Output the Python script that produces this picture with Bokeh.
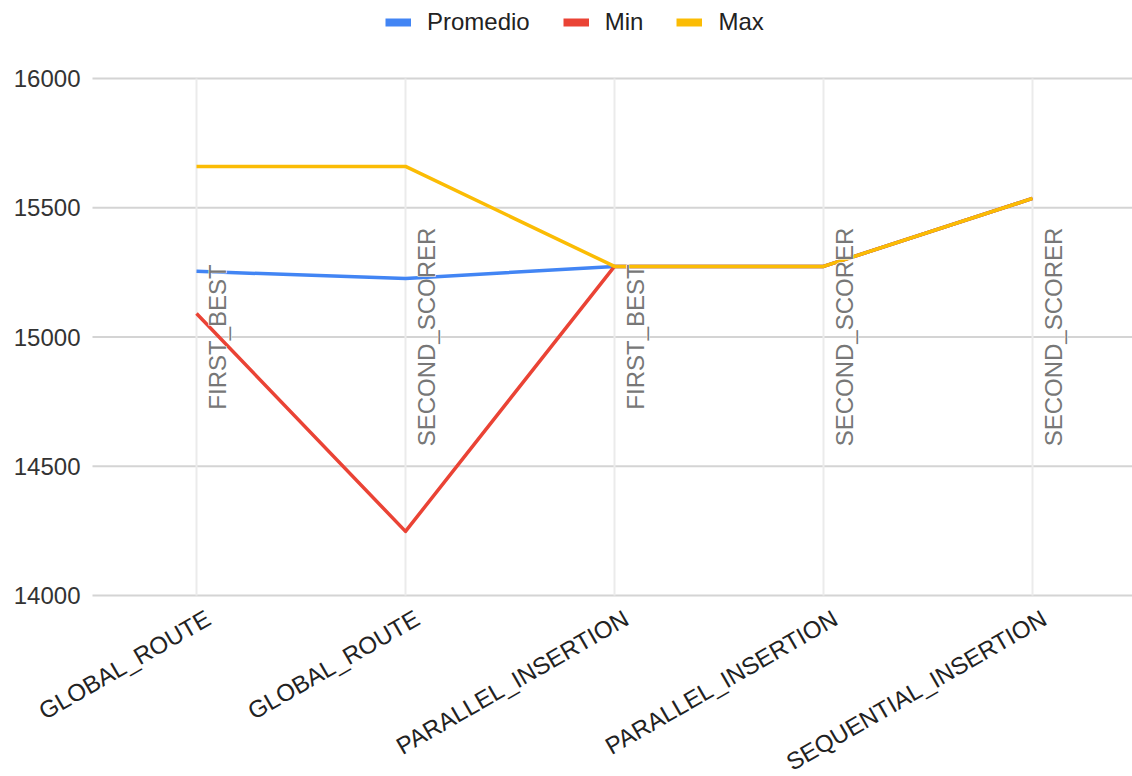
import math

from bokeh.core.properties import value
from bokeh.embed import file_html
from bokeh.models import Legend, LegendItem, Range1d
from bokeh.plotting import figure
from bokeh.resources import INLINE

# Results per algorithm / strategy combination
algorithms = ["GLOBAL_ROUTE", "GLOBAL_ROUTE", "PARALLEL_INSERTION",
              "PARALLEL_INSERTION", "SEQUENTIAL_INSERTION"]
strategies = ["FIRST_BEST", "SECOND_SCORER", "FIRST_BEST",
              "SECOND_SCORER", "SECOND_SCORER"]
promedio = [15254, 15226, 15273, 15273, 15536]
minimo = [15091, 14248, 15273, 15273, 15536]
maximo = [15660, 15660, 15273, 15273, 15536]
y_ticks = [14000, 14500, 15000, 15500, 16000]
y_tick_labels = ["14000", "14500", "15000", "15500", "16000"]

series_names = ["Promedio", "Min", "Max"]
series_values = [promedio, minimo, maximo]
series_colors = ["#4285F4", "#EA4335", "#FBBC04"]

FONT = "Liberation Sans"
xs = list(range(len(algorithms)))

# The drawing area covers the whole canvas: legend room on top, value labels
# on the left, slanted category labels below the lowest gridline.
WIDTH, HEIGHT = 1132, 776
FIRST_COL_PX, COL_STEP_PX = 196, 209   # screen column of the first category, spacing
GRID_LEFT_PX = 92                      # where the horizontal gridlines start
TOP_PX, BOTTOM_PX = 78, 595            # screen rows of the top / bottom gridline

x_lo = -FIRST_COL_PX / COL_STEP_PX
x_hi = x_lo + WIDTH / COL_STEP_PX
x_grid0 = x_lo + GRID_LEFT_PX / COL_STEP_PX
units_per_px = (y_ticks[-1] - y_ticks[0]) / (BOTTOM_PX - TOP_PX)
y_hi = y_ticks[-1] + TOP_PX * units_per_px
y_lo = y_ticks[0] - (HEIGHT - BOTTOM_PX) * units_per_px

p = figure(
    width=WIDTH, height=HEIGHT,
    output_backend="svg", toolbar_location=None,
    x_range=Range1d(x_lo, x_hi), y_range=Range1d(y_lo, y_hi),
    x_axis_location=None, y_axis_location=None,
    min_border=0, outline_line_color=None,
)
p.grid.visible = False

# gridlines
n_y = len(y_ticks)
p.segment(x0=[x_grid0] * n_y, y0=y_ticks, x1=[x_hi] * n_y, y1=y_ticks,
          line_color="#d4d4d4", line_width=2)
p.segment(x0=xs, y0=[y_ticks[0]] * len(xs), x1=xs, y1=[y_ticks[-1]] * len(xs),
          line_color="#ebebeb", line_width=2)

# value labels left of the gridlines
p.text(
    x=[x_grid0] * n_y, y=y_ticks, text=y_tick_labels,
    x_offset=-12, text_align="right", text_baseline="middle",
    text_font=value(FONT), text_font_size="24px", text_color="#333333",
)

# slanted category labels under the lowest gridline
p.text(
    x=xs, y=[y_ticks[0]] * len(xs), text=algorithms,
    angle=math.pi / 6, x_offset=5, y_offset=9,
    text_align="right", text_baseline="top",
    text_font=value(FONT), text_font_size="24px", text_color="#222222",
)

# series lines
for name, vals, color in zip(series_names, series_values, series_colors):
    p.line(xs, vals, line_color=color, line_width=3.5, line_join="round")

# strategy labels along each category line: white halo first, then the text
mid = (y_ticks[0] + y_ticks[-1]) / 2
label_style = dict(
    angle=math.pi / 2, x_offset=21,
    text_align="center", text_baseline="middle",
    text_font=value(FONT), text_font_size="24px",
)
p.text(x=xs, y=[mid] * len(xs), text=strategies, text_color="white",
       text_outline_color="white", **label_style)
p.text(x=xs, y=[mid] * len(xs), text=strategies, text_color="#777777",
       **label_style)

# legend with block swatches (off-screen placeholder point per series)
items = []
for name, color in zip(series_names, series_colors):
    r = p.line(x=[math.nan], y=[math.nan], line_color=color, line_width=8)
    items.append(LegendItem(label=name, renderers=[r]))
legend = Legend(
    items=items, orientation="horizontal", location=(385, 740),
    glyph_width=26, glyph_height=26, label_standoff=16, spacing=33,
    padding=0, margin=0, border_line_alpha=0, background_fill_alpha=0,
    label_text_font=FONT, label_text_font_size="24px",
    label_text_color="#222222",
)
p.add_layout(legend)

open("out.html", "w").write(file_html(p, INLINE))
